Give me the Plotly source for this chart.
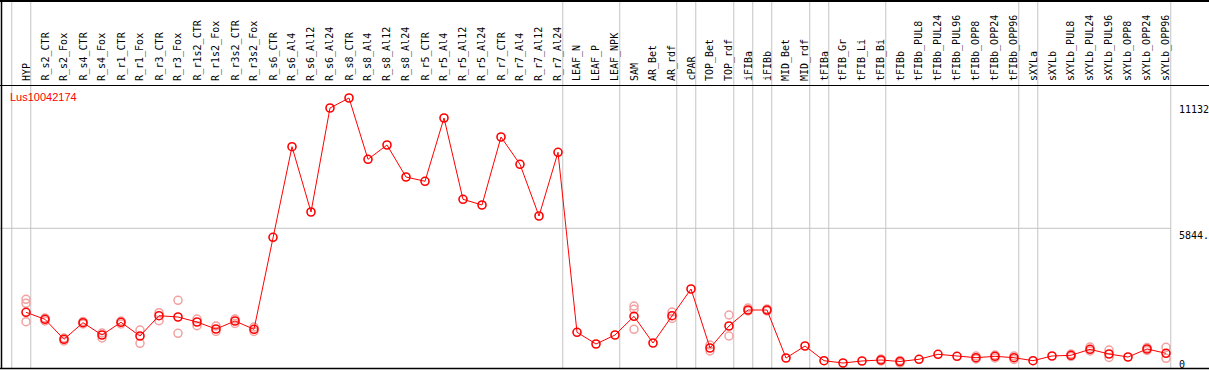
import plotly.graph_objects as go

gene = "Lus10042174"

categories = ["HYP", "R_s2_CTR", "R_s2_Fox", "R_s4_CTR", "R_s4_Fox", "R_r1_CTR", "R_r1_Fox",
              "R_r3_CTR", "R_r3_Fox", "R_r1s2_CTR", "R_r1s2_Fox", "R_r3s2_CTR", "R_r3s2_Fox",
              "R_s6_CTR", "R_s6_Al4", "R_s6_Al12", "R_s6_Al24", "R_s8_CTR", "R_s8_Al4",
              "R_s8_Al12", "R_s8_Al24", "R_r5_CTR", "R_r5_Al4", "R_r5_Al12", "R_r5_Al24",
              "R_r7_CTR", "R_r7_Al4", "R_r7_Al12", "R_r7_Al24", "LEAF_N", "LEAF_P", "LEAF_NPK",
              "SAM", "AR_Bet", "AR_rdf", "cPAR", "TOP_Bet", "TOP_rdf", "iFIBa", "iFIBb",
              "MID_Bet", "MID_rdf", "tFIBa", "tFIB_Gr", "tFIB_Li", "tFIB_Bi", "tFIBb",
              "tFIBb_PUL8", "tFIBb_PUL24", "tFIBb_PUL96", "tFIBb_OPP8", "tFIBb_OPP24",
              "tFIBb_OPP96", "sXYLa", "sXYLb", "sXYLb_PUL8", "sXYLb_PUL24", "sXYLb_PUL96",
              "sXYLb_OPP8", "sXYLb_OPP24", "sXYLb_OPP96"]

means = [2435, 2151, 1339, 2013, 1514, 2029, 1473, 2297, 2244, 2041, 1757, 2082, 1745,
         5479, 9156, 6506, 10727, 11132, 8644, 9225, 7926, 7752, 10321, 7021, 6790,
         9550, 8442, 6343, 8929, 1623, 1149, 1514,
         2273, 1189, 2297, 3381, 986, 1879, 2528, 2528,
         580, 1067, 471, 377, 459, 499, 438,
         528, 731, 649, 593, 649, 593,
         471, 662, 690, 933, 743, 621, 946, 771]

rep_a = [2963, 2204, 1392, 2062, 1595, 2082, 1717, 2419, 2922, 2163, 1879, 2163, 1838,
         None, None, None, None, None, None, None, None, None, None, None, None,
         None, None, None, None, None, None, None,
         2691, None, 2447, None, 1108, 2326, 2610, 2569,
         None, None, None, None, None, 540, 479,
         None, None, None, 662, 702, 662,
         None, None, 743, 1027, 905, None, 1006, 1014]
rep_b = [2800, 2082, 1270, 1960, 1392, 1960, 1177, 2094, 1583, 1891, 1656, 1981, 1656,
         None, None, None, None, None, None, None, None, None, None, None, None,
         None, None, None, None, None, None, None,
         2557, None, 2183, None, 864, 1473, 2488, 2488,
         None, None, None, None, None, 459, 377,
         None, None, None, 540, 580, 519,
         None, None, 641, 864, 601, None, 885, 568]
rep_c = [2054, None, None, None, None, None, None, None, None, None, None, None, None,
         None, None, None, None, None, None, None, None, None, None, None, None,
         None, None, None, None, None, None, None,
         1745, None, None, None, None, None, None, None,
         None, None, None, None, None, None, None,
         None, None, None, None, None, None,
         None, None, None, None, None, None, None, None]

group_ends = ["HYP", "R_r7_Al24", "LEAF_NPK", "AR_rdf", "cPAR", "TOP_rdf", "iFIBa", "iFIBb",
              "MID_rdf", "tFIBa", "tFIB_Bi", "tFIBb_OPP96", "sXYLa", "sXYLb_OPP96"]

y_labels = ["11132", "5844.", "0"]
y_label_vals = [11132, 5844, 0]

W, H = 1209, 370
px = lambda p: (H - p) / H  # pixel row -> paper y

xs = list(range(len(categories)))
rx, ry = [], []
for reps in (rep_a, rep_b, rep_c):
    for i, v in enumerate(reps):
        if v is not None:
            rx.append(i)
            ry.append(v)

fig = go.Figure()
fig.add_trace(go.Scatter(x=rx, y=ry, mode="markers",
                         marker=dict(symbol="circle-open", size=8, color="#f2a0a0",
                                     line=dict(width=1.5, color="#f2a0a0")),
                         hoverinfo="skip", showlegend=False))
fig.add_trace(go.Scatter(x=xs, y=means, mode="lines+markers",
                         line=dict(color="#ff0000", width=1),
                         marker=dict(symbol="circle-open", size=8, color="#ff0000",
                                     line=dict(width=1.6, color="#ff0000")),
                         showlegend=False))

shapes = []
# group separators
bounds = [-0.75] + [categories.index(c) + 0.25 for c in group_ends]
for b in bounds:
    shapes.append(dict(type="line", xref="x", yref="paper", x0=b, x1=b, y0=px(368), y1=1,
                       line=dict(color="#c4c4c4", width=1), layer="below"))
# mid gridline
shapes.append(dict(type="line", xref="paper", yref="y", x0=0, x1=(1170.5) / W,
                   y0=y_label_vals[1], y1=y_label_vals[1],
                   line=dict(color="#c4c4c4", width=1), layer="below"))
# frame lines
shapes += [
    dict(type="line", xref="paper", yref="paper", x0=0, x1=1, y0=px(1), y1=px(1),
         line=dict(color="black", width=2)),
    dict(type="line", xref="paper", yref="paper", x0=0, x1=1, y0=px(85.5), y1=px(85.5),
         line=dict(color="black", width=1)),
    dict(type="line", xref="paper", yref="paper", x0=0, x1=1, y0=px(368.5), y1=px(368.5),
         line=dict(color="black", width=1.5)),
    dict(type="line", xref="paper", yref="paper", x0=1.5 / W, x1=1.5 / W, y0=px(369), y1=1,
         line=dict(color="black", width=1.5)),
]

annotations = []
for i, c in enumerate(categories):
    annotations.append(dict(x=i, y=px(83), xref="x", yref="paper", text=c, textangle=-90,
                            showarrow=False, xanchor="center", yanchor="bottom",
                            font=dict(family="DejaVu Sans Mono", size=10, color="black")))
annotations.append(dict(x=8 / W, y=px(97), xref="paper", yref="paper", text=gene,
                        showarrow=False, xanchor="left", yanchor="middle",
                        font=dict(family="Liberation Sans", size=11, color="#ff0000")))
label_tops = [102, 228, 357]
for t, top in zip(y_labels, label_tops):
    annotations.append(dict(x=1177 / W, y=px(top), xref="paper", yref="paper", text=t,
                            showarrow=False, xanchor="left", yanchor="top",
                            font=dict(family="DejaVu Sans Mono", size=10, color="black")))

y0, k = 372.3, 0.02464
fig.update_layout(
    width=W, height=H, margin=dict(l=0, r=0, t=0, b=0),
    paper_bgcolor="white", plot_bgcolor="white",
    xaxis=dict(range=[-26 / 19, (W - 26) / 19], domain=[0, 1], visible=False),
    yaxis=dict(range=[(y0 - H) / k, y0 / k], domain=[0, 1], visible=False),
    shapes=shapes, annotations=annotations,
)
fig.write_html("out.html", config={"displayModeBar": False},
               post_script="document.body.style.margin='0';"
                           "document.body.style.overflow='hidden';")
